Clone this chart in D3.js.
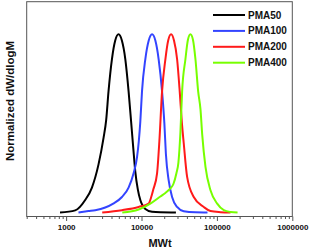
<!DOCTYPE html>
<html><head><meta charset="utf-8">
<script src="https://cdn.jsdelivr.net/npm/d3@7"></script>
<style>body{margin:0;background:#fff}svg{display:block}text{font-family:"Liberation Sans",Arial,sans-serif;font-weight:bold}</style>
</head><body><svg id="c" width="309" height="250"></svg>
<script>
const seriesNames = ["PMA50","PMA100","PMA200","PMA400"];
const seriesColors = ["#000000","#3344ff","#ff1a1a","#77ff00"];
const mw50  = [830,1320,1790,2200,2690,3140,3400,3650,4050,4480,4960,5490,6100,6740,7310,7780,8270,8930,9640,11240,13800,17800,28600];
const val50 = [0,0.012,0.07,0.14,0.27,0.42,0.52,0.68,0.86,0.965,1,0.965,0.86,0.68,0.5,0.36,0.23,0.13,0.07,0.02,0.004,0.001,0];
const mw100  = [1458,1980,2430,3300,4217,5505,6738,7852,8710,9204,9640,10150,11230,12465,13795,15260,16880,18730,20100,21050,22930,25440,29660,36290,51940,75000];
const val100 = [0,0.008,0.013,0.028,0.05,0.087,0.14,0.22,0.31,0.4,0.51,0.68,0.86,0.965,1,0.965,0.86,0.68,0.5,0.33,0.18,0.087,0.031,0.007,0.001,0];
const mw200  = [3011,5505,9150,12430,13300,14350,16080,17250,18730,20730,22580,24680,26970,29660,32110,34350,36290,40270,49310,66960,82200,111700,151700];
const val200 = [0,0.013,0.031,0.05,0.08,0.13,0.22,0.4,0.68,0.86,0.965,1,0.965,0.86,0.68,0.5,0.39,0.2,0.087,0.031,0.008,0.002,0];
const mw400  = [5556,9150,13090,17780,20730,24150,26480,29030,30850,32810,34560,38230,41270,44560,48110,51940,56400,60530,63760,70540,82200,100900,123500,151700,187900];
const val400 = [0,0.017,0.05,0.09,0.11,0.135,0.16,0.22,0.28,0.45,0.68,0.86,0.97,1,0.97,0.86,0.68,0.58,0.44,0.256,0.125,0.05,0.013,0.003,0];
const majorTicks = [1000,10000,100000,1000000];
const tickLabels = ["1000","10000","100000","1000000"];
const xTitle = "MWt", yTitle = "Normalized dW/dlogM";

const mws = [mw50,mw100,mw200,mw400], vals = [val50,val100,val200,val400];
const L=26.7, R=292.3, T=1.7, B=216.5;
const svg = d3.select("#c");
const x = d3.scaleLog().domain([300,1000000]).range([L,R]);
const y = d3.scaleLinear().domain([-0.0224,1.183]).range([B,T]);

const minor=[];
for(let d=100; d<1000000; d*=10) for(let k=2;k<10;k++){const v=d*k; if(v>=300&&v<=1000000) minor.push(v);}
svg.append("g").attr("transform",`translate(0,${B})`)
  .call(d3.axisBottom(x).tickValues(minor).tickSize(2.5).tickSizeOuter(0).tickFormat(""))
  .call(g=>{g.select(".domain").remove(); g.selectAll("line").attr("stroke","#555");});
svg.append("g").attr("transform",`translate(0,${B})`)
  .call(d3.axisBottom(x).tickValues(majorTicks).tickSize(4.5).tickSizeOuter(0).tickPadding(3).tickFormat((d,i)=>tickLabels[i]))
  .call(g=>{g.select(".domain").remove(); g.selectAll("line").attr("stroke","#555");
    g.selectAll("text").attr("fill","#111").style("font-size","8px").style("font-family","'Liberation Sans',Arial,sans-serif").style("font-weight","bold");});

svg.append("rect").attr("x",L).attr("y",T).attr("width",R-L).attr("height",B-T)
  .attr("fill","none").attr("stroke","#555").attr("stroke-width",1);

const line = d3.line().x(d=>x(d[0])).y(d=>y(d[1])).curve(d3.curveMonotoneX);
mws.forEach((m,i)=>{
  svg.append("path").datum(m.map((v,j)=>[v,vals[i][j]]))
    .attr("d",line).attr("fill","none").attr("stroke",seriesColors[i]).attr("stroke-width",2);
});

const lg = svg.append("g");
seriesNames.forEach((n,i)=>{
  const yy = 15 + i*15.9;
  lg.append("line").attr("x1",213).attr("x2",245).attr("y1",yy).attr("y2",yy).attr("stroke",seriesColors[i]).attr("stroke-width",2);
  lg.append("text").attr("x",248).attr("y",yy).attr("dy","0.35em").style("font-size","10px").attr("fill","#111").text(n);
});

svg.append("text").attr("x",(L+R)/2+0.5).attr("y",247).attr("text-anchor","middle").style("font-size","11px").attr("fill","#111").text(xTitle);
svg.append("text").attr("transform",`translate(13.5,101) rotate(-90)`).attr("text-anchor","middle").style("font-size","11.5px").attr("fill","#111").text(yTitle);
</script></body></html>
